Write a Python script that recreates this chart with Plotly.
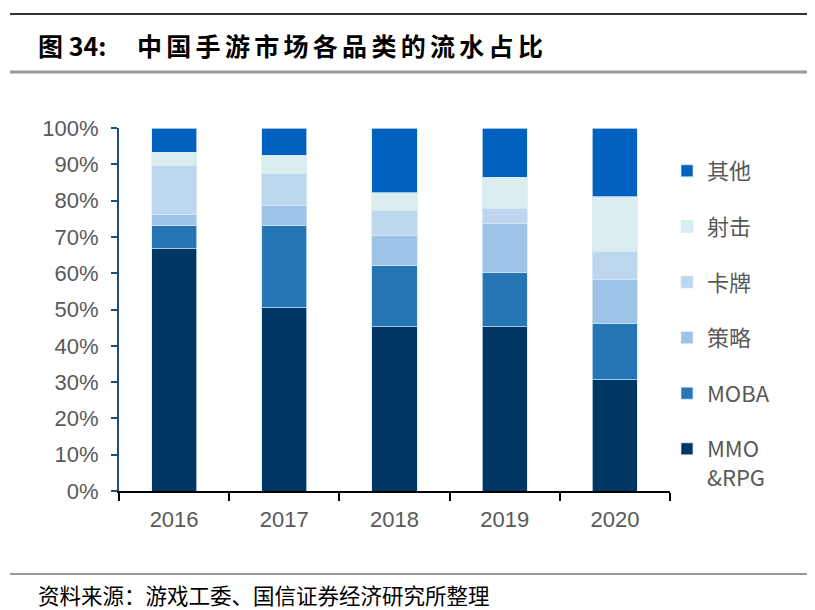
import plotly.graph_objects as go

years = ["2016", "2017", "2018", "2019", "2020"]
mmo_rpg = [66.7, 50.5, 45.3, 45.3, 30.7]
moba = [6.5, 22.7, 16.9, 15.0, 15.4]
strategy = [3.0, 5.4, 8.2, 13.5, 12.1]
card = [13.4, 8.8, 6.9, 3.9, 7.8]
shooter = [3.7, 5.1, 4.9, 8.7, 15.0]
other = [6.7, 7.5, 17.8, 13.6, 19.0]

series_names = ["MMO<br>&RPG", "MOBA", "策略", "卡牌", "射击", "其他"]
series_values = [mmo_rpg, moba, strategy, card, shooter, other]
series_colors = ["#003664", "#2676B6", "#9DC3E6", "#BDD7EE", "#DAEEF0", "#0061BF"]

OFF = 8  # browser body margin
W, H = 815 - OFF, 610 - OFF
# plot area in page pixels: x 119..670, y 128..491
PL, PR, PT, PB = 119, 670, 128, 491
L, R, T, B = PL - OFF, W - (PR - OFF), PT - OFF, H - (PB - OFF)
pw, ph = PR - PL, PB - PT


def px(q):
    return (q - PL) / pw


def py(p):
    return (PB - p) / ph


fig = go.Figure()
n = len(series_names)
for i, (name, vals, col) in enumerate(zip(series_names, series_values, series_colors)):
    fig.add_trace(go.Bar(
        x=years, y=[v / 100 for v in vals], name=name,
        marker=dict(color=col, line=dict(color="rgba(215,232,245,0.9)", width=0.8)),
        width=0.41, legendgroup=name, legendrank=n - i,
    ))

fig.update_layout(
    width=W, height=H, barmode="stack",
    margin=dict(l=L, r=R, t=T, b=B, autoexpand=False),
    plot_bgcolor="white", paper_bgcolor="white",
    font=dict(family="Liberation Sans, Arial, Noto Sans CJK SC", size=22, color="#595959"),
    xaxis=dict(type="category", tickson="boundaries", ticks="outside", ticklen=8,
               tickwidth=2, tickcolor="#000000", showline=True, linecolor="#000000",
               linewidth=2, showgrid=False, ticklabelstandoff=8,
               tickfont=dict(size=22, color="#595959")),
    yaxis=dict(range=[0, 1], tickvals=[i / 10 for i in range(11)], tickformat=".0%",
               ticks="outside", ticklen=6, tickwidth=2, tickcolor="#1F4E79",
               showline=True, linecolor="#1F4E79", linewidth=2, showgrid=False,
               zeroline=False, ticklabelstandoff=8,
               tickfont=dict(size=22, color="#595959")),
    legend=dict(x=px(667), y=py(150), xanchor="left", yanchor="top",
                traceorder="grouped", tracegroupgap=24, valign="top",
                font=dict(family="Noto Sans CJK SC, Liberation Sans", size=22, color="#595959"),
                itemwidth=30, bgcolor="rgba(0,0,0,0)"),
)

shapes = [
    dict(type="line", xref="paper", yref="paper", x0=px(10), x1=px(815), y0=py(14), y1=py(14),
         line=dict(color="#333333", width=2)),
    dict(type="line", xref="paper", yref="paper", x0=px(10), x1=px(815), y0=py(72), y1=py(72),
         line=dict(color="#999999", width=3)),
    dict(type="line", xref="paper", yref="paper", x0=px(10), x1=px(815), y0=py(574), y1=py(574),
         line=dict(color="#999999", width=2)),
]
fig.update_layout(shapes=shapes)

fig.add_annotation(xref="paper", yref="paper", x=px(36), y=py(45), xanchor="left", yanchor="middle",
                   text="<b>图 34:</b>", showarrow=False, align="left",
                   font=dict(family="Noto Sans CJK SC", size=25, color="#000000"))
fig.add_annotation(xref="paper", yref="paper", x=px(135), y=py(45), xanchor="left", yanchor="middle",
                   text="<b>中国手游市场各品类的流水占比</b>", showarrow=False, align="left",
                   font=dict(family="Noto Sans CJK SC", size=25, color="#000000"))
fig.add_annotation(xref="paper", yref="paper", x=px(36), y=py(594), xanchor="left", yanchor="middle",
                   text="资料来源：游戏工委、国信证券经济研究所整理", showarrow=False, align="left",
                   font=dict(family="Noto Sans CJK SC", size=21.5, color="#000000"))

post = """
var g = document.querySelector('.annotation[data-index="1"] text');
if (g) { g.setAttribute('text-anchor', 'start'); g.style.letterSpacing = '4.3px'; }
"""
fig.write_html("out.html", post_script=post)
